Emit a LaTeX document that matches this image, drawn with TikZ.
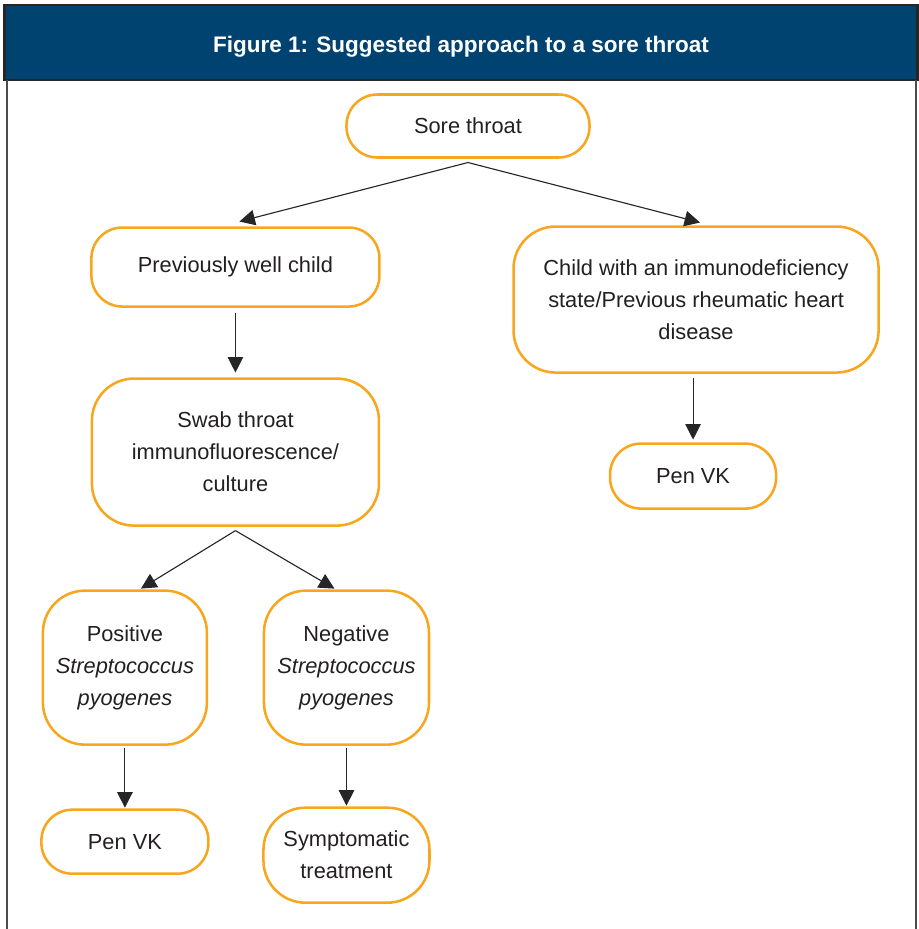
\documentclass[tikz,border=0pt]{standalone}
\usepackage{fontspec}
\setmainfont{Liberation Sans}
\usepackage{xcolor}
\usetikzlibrary{positioning,arrows.meta}
\definecolor{boxorange}{RGB}{247,166,30}
\definecolor{headblue}{RGB}{0,66,112}
\definecolor{textgray}{RGB}{35,31,32}

\begin{document}
\begin{tikzpicture}[
        x=0.025cm, y=-0.025cm,
        box/.style={rectangle, draw=boxorange, line width=1.8pt, rounded corners=22pt, align=center, text=textgray, font=\fontsize{15.5}{22.75}\selectfont, inner sep=2pt, outer sep=0pt},
        tall/.style={rounded corners=30pt},
        header/.style={rectangle, fill=headblue, draw=black!85, line width=2pt, minimum width=22.8cm, minimum height=1.875cm},
        headtext/.style={text=white, font=\fontsize{16}{19}\selectfont\bfseries},
        frameline/.style={draw=black!70, line width=1.4pt},
        arrow/.style={-{Triangle[width=11pt,length=11pt]}, line width=0.8pt, draw=black!85}
    ]
        \useasboundingbox (0,0) rectangle (919,929);

        % Header and frame
        \node[header] (head) at (461,42.5) {};
        \node[headtext] (title) at ([yshift=-0.1cm]head.center) {Figure 1: Suggested approach to a sore throat};
        \draw[frameline] (7,80) -- (7,929);
        \draw[frameline] (916,80) -- (916,929);

        % Top level
        \node[box, minimum width=6.075cm, minimum height=1.575cm] (sore) at (468,126) {Sore throat};

        % Second level
        \node[box, minimum width=7.2cm, minimum height=1.975cm, below left=1.75cm and -0.825cm of sore] (prev) {Previously well child};
        \node[box, tall, minimum width=9.125cm, minimum height=3.65cm, below right=1.725cm and -1.9cm of sore] (immuno) {Child with an immunodeficiency\\state/Previous rheumatic heart\\disease};

        % Swab and right branch
        \node[box, tall, minimum width=7.175cm, minimum height=3.675cm, below=1.8cm of prev] (swab) {Swab throat\\immunofluorescence/\\culture};
        \node[box, minimum width=4.15cm, minimum height=1.625cm, below=1.775cm of immuno, xshift=-0.075cm] (penright) {Pen VK};

        % Swab results
        \node[box, tall, minimum width=4.1cm, minimum height=3.85cm, below left=1.625cm and -2.875cm of swab] (positive) {Positive\\\textit{Streptococcus}\\\textit{pyogenes}};
        \node[box, tall, minimum width=4.125cm, minimum height=3.85cm, right=1.425cm of positive] (negative) {Negative\\\textit{Streptococcus}\\\textit{pyogenes}};

        % Treatment
        \node[box, minimum width=4.175cm, minimum height=1.6cm, below=1.625cm of positive] (penleft) {Pen VK};
        \node[box, tall, minimum width=4.15cm, minimum height=2.375cm, below=1.575cm of negative] (symptom) {Symptomatic\\treatment};

        % Arrows
        \draw[arrow] ([yshift=-0.125cm]sore.south) -- ([xshift=0.1cm,yshift=0.15cm]prev.north);
        \draw[arrow] ([yshift=-0.125cm]sore.south) -- ([xshift=0.1cm,yshift=0.1cm]immuno.north);
        \draw[arrow] ([yshift=-0.15cm]prev.south) -- ([yshift=0.15cm]swab.north);
        \draw[arrow] ([yshift=-0.125cm]penright.north |- immuno.south) -- ([yshift=0.1cm]penright.north);
        \draw[arrow] ([yshift=-0.125cm]swab.south) -- ([xshift=0.4cm,yshift=0.05cm]positive.north);
        \draw[arrow] ([yshift=-0.125cm]swab.south) -- ([xshift=-0.3cm,yshift=0.05cm]negative.north);
        \draw[arrow] ([yshift=-0.075cm]positive.south) -- ([yshift=0.05cm]penleft.north);
        \draw[arrow] ([yshift=-0.075cm]negative.south) -- ([yshift=0.05cm]symptom.north);
    \end{tikzpicture}
\end{document}
